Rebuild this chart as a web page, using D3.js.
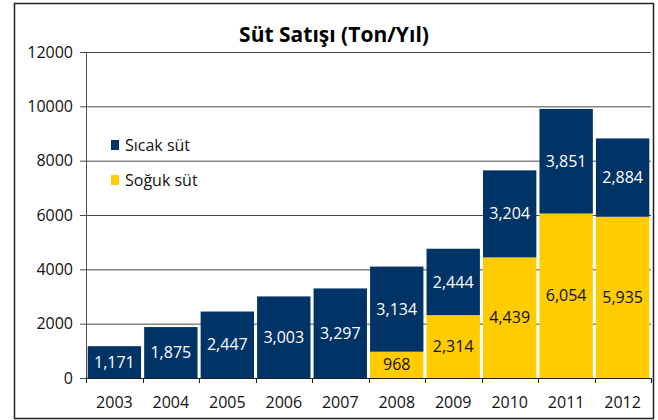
<!DOCTYPE html>
<html>
<head>
<meta charset="utf-8">
<script src="https://cdn.jsdelivr.net/npm/d3@7"></script>
<style>
  body { margin: 0; background: #fff; }
  text { font-family: "Open Sans", sans-serif; }
</style>
</head>
<body>
<div id="chart"></div>
<script>
// data
let years = ['2003', '2004', '2005', '2006', '2007', '2008', '2009', '2010', '2011', '2012']
let sicak = [1171, 1875, 2447, 3003, 3297, 3134, 2444, 3204, 3851, 2884]
let soguk = [0, 0, 0, 0, 0, 968, 2314, 4439, 6054, 5935]
let yTicks = [0, 2000, 4000, 6000, 8000, 10000, 12000]
let seriesNames = ['Sıcak süt', 'Soğuk süt']

let W = 658, H = 420
let margin = { top: 52, left: 86, right: 7, bottom: 42 }
let width = W - margin.left - margin.right,
  height = H - margin.top - margin.bottom

let svg = d3.select('#chart').append('svg')
  .attr('width', W)
  .attr('height', H)

// frame
svg.append('rect')
  .attr('x', 14.5).attr('y', 3.5)
  .attr('width', 639).attr('height', 415)
  .attr('fill', 'none')
  .attr('stroke', '#222')
  .attr('stroke-width', 1.5)

svg.append('text')
  .attr('x', 334).attr('y', 42)
  .attr('text-anchor', 'middle')
  .style('font-size', '21px')
  .style('font-weight', 'bold')
  .text('Süt Satışı (Ton/Yıl)')

let g = svg.append('g')
  .attr('transform', 'translate(' + margin.left + ',' + margin.top + ')')

let xScale = d3.scaleBand().domain(years).range([0, width]).paddingInner(0.055).paddingOuter(0.03)
let yScale = d3.scaleLinear().domain([0, 12000]).range([height, 0])

// gridlines
g.selectAll('.grid')
  .data(yTicks)
  .enter().append('line')
  .attr('x1', 0).attr('x2', width)
  .attr('y1', d => yScale(d) + 0.5).attr('y2', d => yScale(d) + 0.5)
  .attr('stroke', '#4a4a4a')
  .attr('stroke-width', 1)

// y axis
let yAxis = g.append('g')
  .call(d3.axisLeft(yScale).tickValues(yTicks).tickSize(6).tickPadding(7).tickFormat(d3.format('d')))
yAxis.select('.domain').attr('stroke', '#4a4a4a')
yAxis.selectAll('.tick line').attr('stroke', '#4a4a4a')
yAxis.selectAll('text').style('font-size', '16px').attr('fill', '#111')

let stackData = years.map((y, i) => ({ year: y, soguk: soguk[i], sicak: sicak[i] }))
let stack = d3.stack().keys(['soguk', 'sicak'])(stackData)
let colors = { soguk: '#FFCC00', sicak: '#003366' }
let textColors = { soguk: '#111', sicak: '#fff' }

stack.forEach(function (layer) {
  let key = layer.key
  let grp = g.append('g')
  grp.selectAll('rect')
    .data(layer.filter(d => d[1] - d[0] > 0))
    .enter().append('rect')
    .attr('x', d => xScale(d.data.year))
    .attr('width', xScale.bandwidth())
    .attr('y', d => yScale(d[1]))
    .attr('height', d => yScale(d[0]) - yScale(d[1]))
    .attr('fill', colors[key])
  grp.selectAll('text')
    .data(layer.filter(d => d[1] - d[0] > 0))
    .enter().append('text')
    .attr('x', d => xScale(d.data.year) + xScale.bandwidth() / 2)
    .attr('y', d => (yScale(d[0]) + yScale(d[1])) / 2)
    .attr('dy', '0.35em')
    .attr('text-anchor', 'middle')
    .attr('fill', textColors[key])
    .style('font-size', '16px')
    .text(d => d3.format(',')(d[1] - d[0]))
})

// x axis
let xAxisG = g.append('g')
  .attr('transform', 'translate(0,' + height + ')')
xAxisG.append('line')
  .attr('x1', 0).attr('x2', width)
  .attr('y1', 0.5).attr('y2', 0.5)
  .attr('stroke', '#222')
let step = width / years.length
xAxisG.selectAll('.tk')
  .data(d3.range(years.length + 1))
  .enter().append('line')
  .attr('x1', d => Math.round(d * step) + 0.5).attr('x2', d => Math.round(d * step) + 0.5)
  .attr('y1', 0).attr('y2', 5)
  .attr('stroke', '#222')
xAxisG.selectAll('text')
  .data(years)
  .enter().append('text')
  .attr('x', d => xScale(d) + xScale.bandwidth() / 2)
  .attr('y', 30)
  .attr('text-anchor', 'middle')
  .attr('fill', '#111')
  .style('font-size', '16px')
  .text(d => d)

// legend
let legend = svg.append('g')
let legendColors = ['#003366', '#FFCC00']
seriesNames.forEach(function (name, i) {
  legend.append('rect')
    .attr('x', 111).attr('y', 140 + i * 35)
    .attr('width', 8).attr('height', 10)
    .attr('fill', legendColors[i])
  legend.append('text')
    .attr('x', 125).attr('y', 145 + i * 35)
    .attr('dy', '0.35em')
    .attr('fill', '#111')
    .style('font-size', '16px')
    .text(name)
})
</script>
</body>
</html>
